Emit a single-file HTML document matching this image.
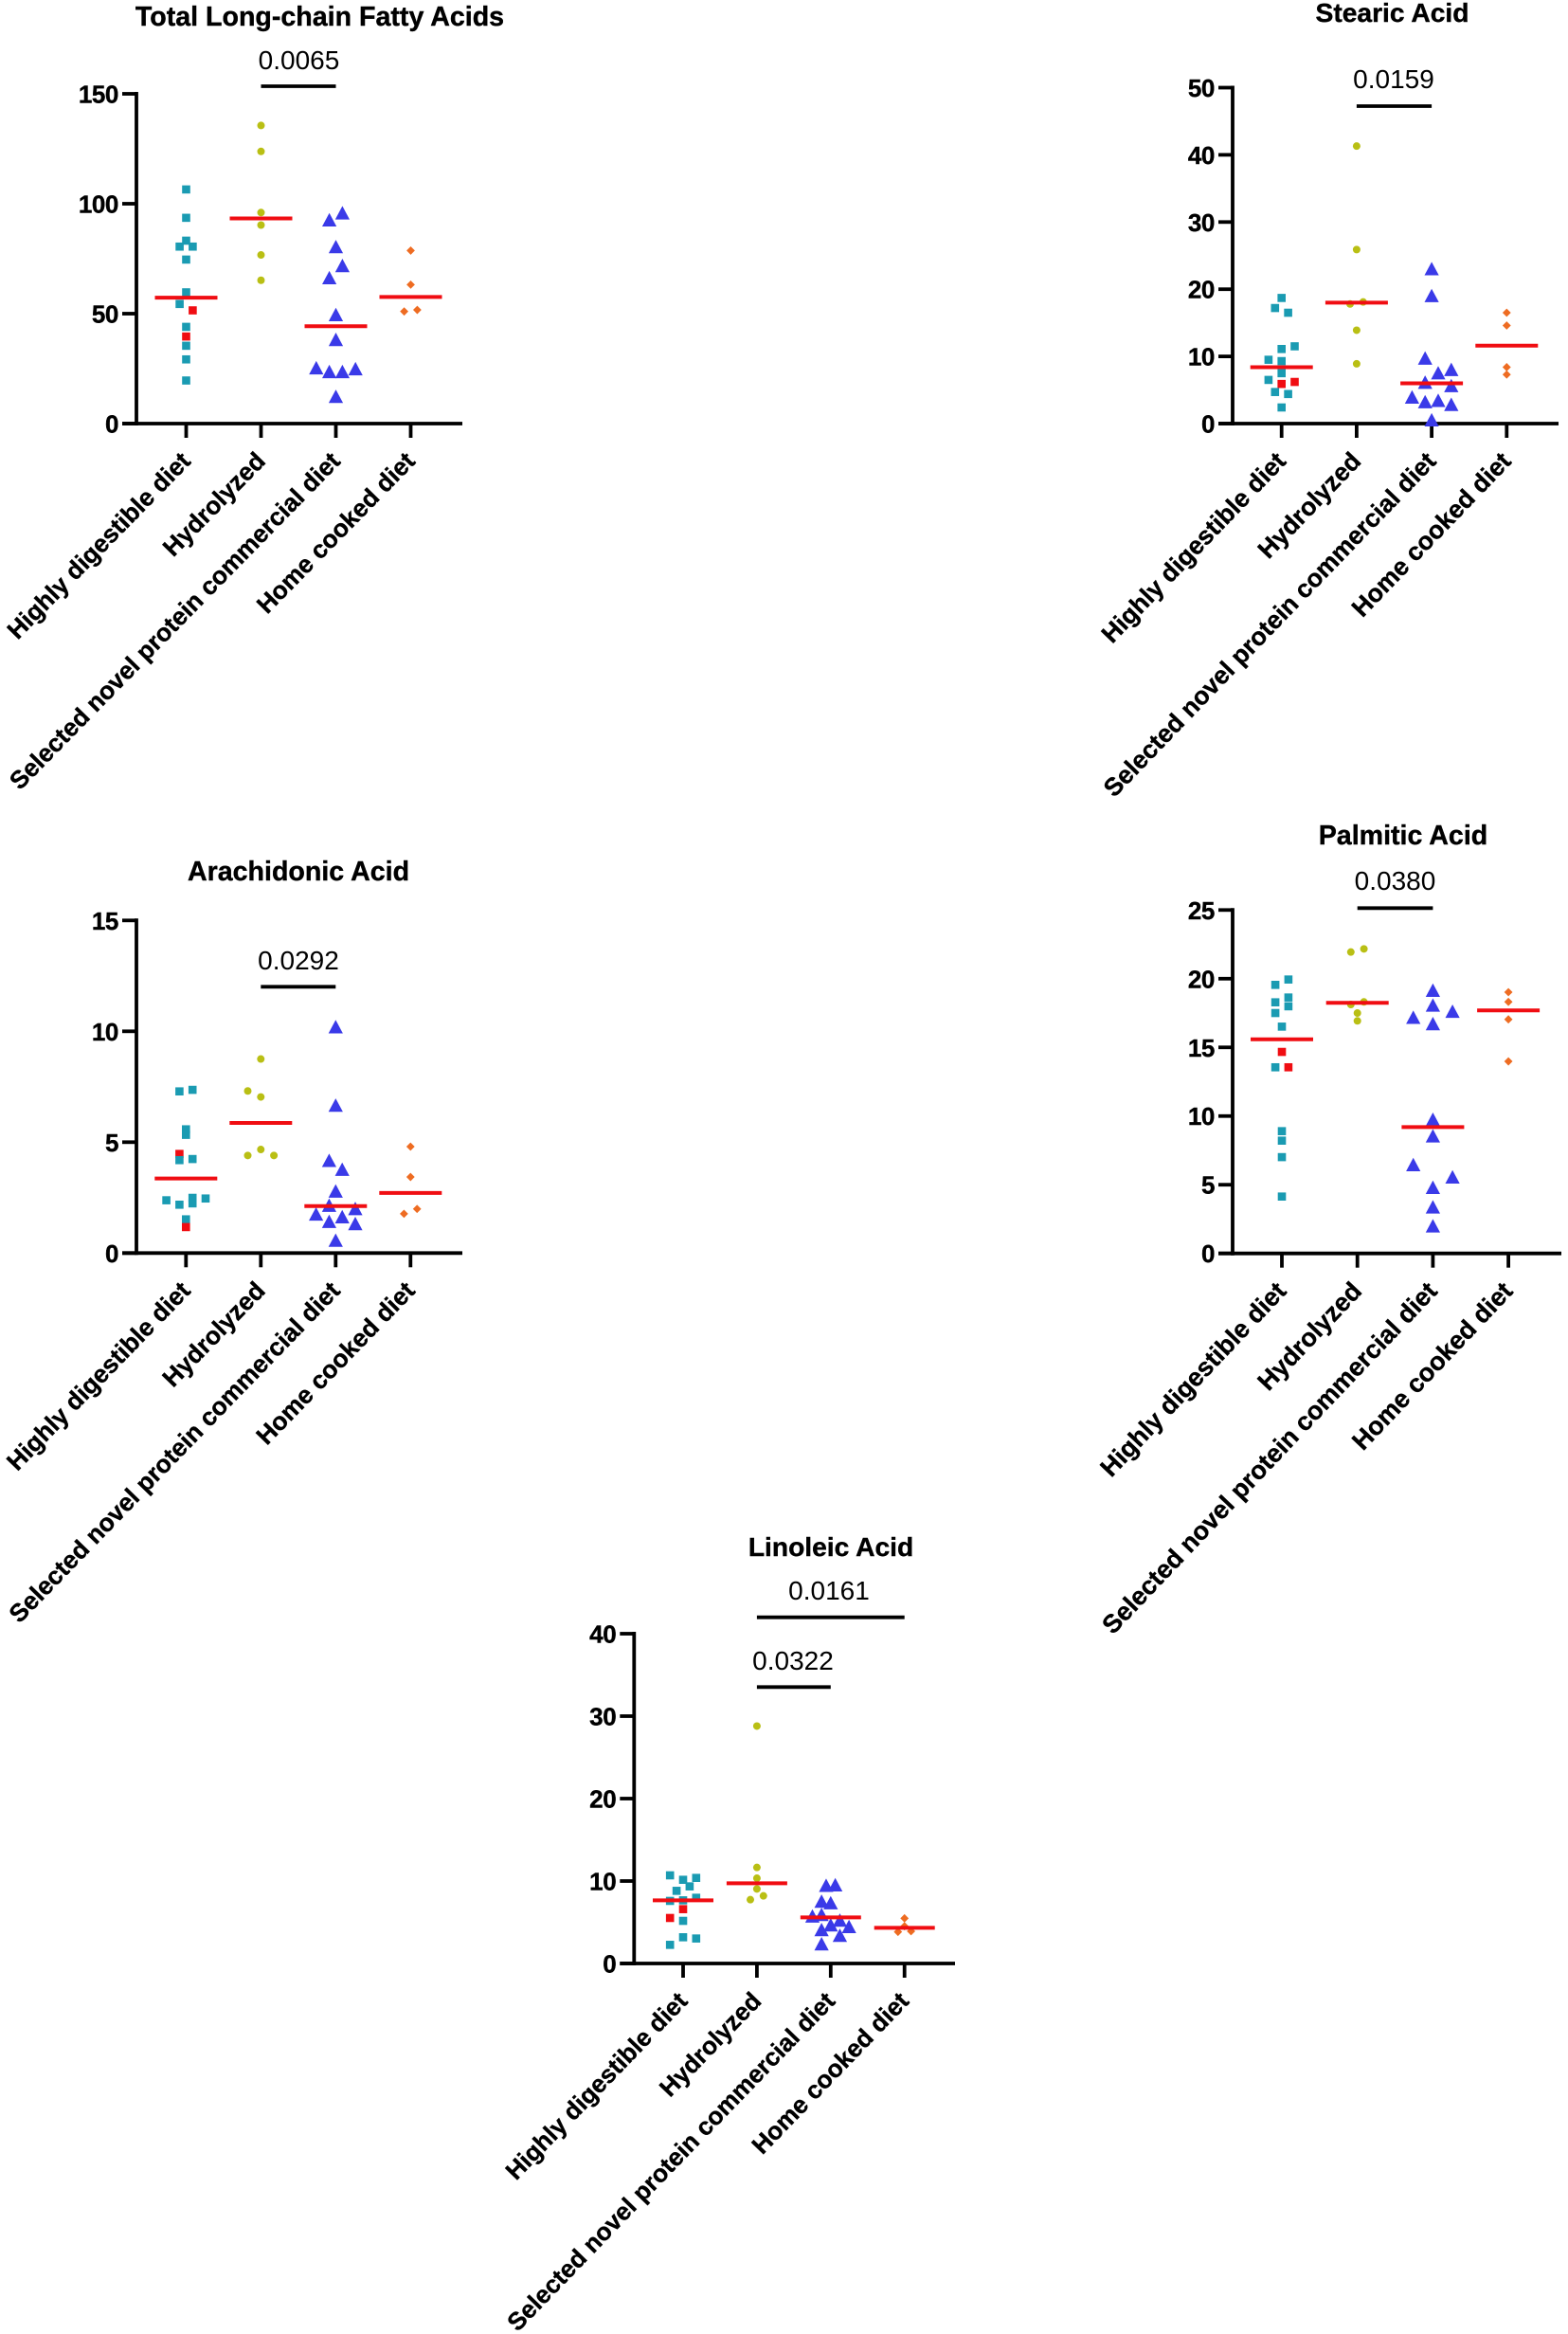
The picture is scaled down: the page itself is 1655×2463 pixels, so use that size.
<!DOCTYPE html>
<html lang="en">
<head>
<meta charset="utf-8">
<title>Fatty acid concentrations by diet</title>
<style>
html,body{margin:0;padding:0;background:#fff;}
body{width:1655px;height:2463px;overflow:hidden;}
svg{display:block;font-family:"Liberation Sans",Arial,sans-serif;filter:blur(0.35px);}
</style>
</head>
<body>
<svg id="figure" xmlns="http://www.w3.org/2000/svg" width="1655" height="2463" viewBox="0 0 1655 2463"></svg>
<script>
const categories = ["Highly digestible diet", "Hydrolyzed", "Selected novel protein commercial diet", "Home cooked diet"];

/* Total long-chain fatty acids */
const totalTicks = [0, 50, 100, 150];
const totalDigestible = [106.5, 93.6, 83.2, 80.5, 80.5, 74.6, 59.7, 54.4, 51.5, 44, 39.6, 35.4, 29.2, 19.6];
const totalDigestibleSwarm = [0, 0, 0, -1, 1, 0, 0, -1, 1, 0, 0, 0, 0, 0];
const totalDigestibleFlagged = [8, 10];
const totalHydrolyzed = [135.6, 123.8, 96, 90.3, 76.7, 65.2];
const totalHydrolyzedSwarm = [0, 0, 0, 0, 0, 0];
const totalNovel = [95.7, 92.5, 80.3, 71.7, 66.2, 49.4, 38.1, 25.2, 23.5, 23.5, 24.8, 12.2];
const totalNovelSwarm = [1, -1, 0, 1, -1, 0, 0, -3, -1, 1, 3, 0];
const totalHome = [78.7, 63.2, 51, 51.7];
const totalHomeSwarm = [0, 0, -1, 1];
const totalMedians = [57.3, 93.3, 44.3, 57.6];

/* Stearic acid */
const stearicTicks = [0, 10, 20, 30, 40, 50];
const stearicDigestible = [18.7, 17.2, 16.5, 11.5, 11.1, 9.5, 9.3, 7.5, 6.5, 5.9, 6.2, 4.7, 4.4, 2.4];
const stearicDigestibleSwarm = [0, -1, 1, 2, 0, -2, 0, 0, -2, 0, 2, -1, 1, 0];
const stearicDigestibleFlagged = [9, 10];
const stearicHydrolyzed = [41.3, 25.9, 17.8, 18.1, 13.9, 8.9];
const stearicHydrolyzedSwarm = [0, 0, -1, 1, 0, 0];
const stearicNovel = [23, 19, 9.7, 7.5, 8, 6.1, 5.6, 3.9, 3.2, 3.4, 2.8, 0.5];
const stearicNovelSwarm = [0, 0, -1, 1, 3, -1, 3, -3, -1, 1, 3, 0];
const stearicHome = [16.5, 14.6, 8.4, 7.3];
const stearicHomeSwarm = [0, 0, 0, 0];
const stearicMedians = [8.4, 18, 6, 11.6];

/* Arachidonic acid */
const arachidonicTicks = [0, 5, 10, 15];
const arachidonicDigestible = [7.36, 7.29, 5.58, 5.33, 4.47, 4.19, 4.24, 2.38, 2.46, 2.18, 2.49, 2.24, 1.52, 1.17];
const arachidonicDigestibleSwarm = [1, -1, 0, 0, -1, -1, 1, -3, 3, -1, 1, 1, 0, 0];
const arachidonicDigestibleFlagged = [4, 13];
const arachidonicHydrolyzed = [8.75, 7.31, 7.04, 4.67, 4.4, 4.4];
const arachidonicHydrolyzedSwarm = [0, -2, 0, 0, -2, 2];
const arachidonicNovel = [10.19, 6.65, 4.16, 3.76, 2.78, 2.14, 1.99, 1.74, 1.62, 1.41, 1.31, 0.56];
const arachidonicNovelSwarm = [0, 0, -1, 1, 0, -1, 3, -3, 1, -1, 3, 0];
const arachidonicHome = [4.8, 3.43, 1.99, 1.77];
const arachidonicHomeSwarm = [0, 0, 1, -1];
const arachidonicMedians = [3.36, 5.87, 2.12, 2.71];

/* Palmitic acid */
const palmiticTicks = [0, 5, 10, 15, 20, 25];
const palmiticDigestible = [19.94, 19.55, 18.63, 18.28, 17.99, 17.5, 16.51, 14.67, 13.55, 13.55, 8.9, 8.21, 7.01, 4.14];
const palmiticDigestibleSwarm = [1, -1, 1, -1, 1, -1, 0, 0, -1, 1, 0, 0, 0, 0];
const palmiticDigestibleFlagged = [7, 9];
const palmiticHydrolyzed = [22.17, 21.94, 18.31, 18.12, 17.5, 16.93];
const palmiticHydrolyzedSwarm = [1, -1, 1, -1, 0, 0];
const palmiticNovel = [19.13, 18.05, 17.6, 17.16, 16.7, 9.73, 8.53, 6.44, 5.54, 4.78, 3.36, 1.98];
const palmiticNovelSwarm = [0, 0, 3, -3, 0, 0, 0, -3, 3, 0, 0, 0];
const palmiticHome = [19.02, 18.31, 17.04, 13.98];
const palmiticHomeSwarm = [0, 0, 0, 0];
const palmiticMedians = [15.59, 18.24, 9.2, 17.69];

/* Linoleic acid */
const linoleicTicks = [0, 10, 20, 30, 40];
const linoleicDigestible = [10.69, 10.38, 10.15, 9.35, 8.81, 7.97, 7.59, 7.66, 6.59, 5.52, 5.17, 3.18, 3.03, 2.26];
const linoleicDigestibleSwarm = [-2, 2, 0, 1, -1, 2, -2, 0, 0, -2, 0, 0, 2, -2];
const linoleicDigestibleFlagged = [8, 9];
const linoleicHydrolyzed = [28.8, 11.65, 10.34, 9.04, 8.2, 7.74];
const linoleicHydrolyzedSwarm = [0, 0, 0, 0, 1, -1];
const linoleicNovel = [9.5, 9.43, 7.51, 7.32, 5.9, 5.71, 5.21, 4.64, 4.44, 4.06, 3.37, 2.34];
const linoleicNovelSwarm = [0.7, -0.7, -1.4, 0, -1.4, -2.8, 1.4, 0, 2.8, -1.4, 1.4, -1.4];
const linoleicHome = [5.48, 4.52, 3.83, 3.91];
const linoleicHomeSwarm = [0, 0, -1, 1];
const linoleicMedians = [7.66, 9.73, 5.59, 4.33];

const NS = "http://www.w3.org/2000/svg";
const root = document.getElementById("figure");
const TEAL = "#1a9bb2";
const OLIVE = "#b9bf14";
const BLUE = "#3a3ae8";
const ORANGE = "#ee6c22";
const RED = "#f00d12";
const BOLD_STROKE = 0.4;

function make(parent, tag, attrs, text) {
  const el = document.createElementNS(NS, tag);
  for (const k in attrs) el.setAttribute(k, attrs[k]);
  if (text !== undefined) el.textContent = text;
  parent.appendChild(el);
  return el;
}

function drawMark(parent, kind, x, y, color) {
  let el;
  if (kind === 0) {
    el = make(parent, "rect", {x: x - 4.3, y: y - 4.3, width: 8.6, height: 8.6, fill: color});
  } else if (kind === 1) {
    el = make(parent, "circle", {cx: x, cy: y, r: 4, fill: color});
  } else if (kind === 2) {
    el = make(parent, "polygon", {points: (x) + "," + (y - 7.6) + " " + (x + 7.6) + "," + (y + 6.6) + " " + (x - 7.6) + "," + (y + 6.6), fill: color});
  } else {
    el = make(parent, "polygon", {points: (x) + "," + (y - 4.4) + " " + (x + 4.4) + "," + y + " " + (x) + "," + (y + 4.4) + " " + (x - 4.4) + "," + y, fill: color});
  }
  return el;
}

function drawPanel(p) {
  const yScale = function (v) { return p.y0 - v * (p.y0 - p.yTop) / p.yMax; };
  const xScale = function (i) { return p.xFirst + i * p.xStep; };
  const slotPx = 6.9;

  const g = make(root, "g", {});
  
  

  const title = make(g, "text", {x: p.titleX, y: p.titleY, "text-anchor": "middle", "font-size": p.titleSize, "font-weight": "700", fill: "#000", stroke: "#000", "stroke-width": BOLD_STROKE}, p.title);
  
  

  const yAxis = make(g, "line", {x1: p.xAxis, x2: p.xAxis, y1: p.yTop - 2, y2: p.y0 + 2, stroke: "#000", "stroke-width": 3.8});
  
  

  const xAxis = make(g, "line", {x1: p.xAxis - 15, x2: p.xEnd, y1: p.y0, y2: p.y0, stroke: "#000", "stroke-width": 3.8});
  
  

  p.ticks.forEach(function (t) {
    const tick = make(g, "line", {x1: p.xAxis - 15, x2: p.xAxis, y1: yScale(t), y2: yScale(t), stroke: "#000", "stroke-width": 3.8});
    
    
    const label = make(g, "text", {x: p.xAxis - 19, y: yScale(t) + 9.5, "text-anchor": "end", "font-size": 26, "font-weight": "700", fill: "#000", stroke: "#000", "stroke-width": BOLD_STROKE, "letter-spacing": "-0.4"}, String(t));
    
    
  });

  categories.forEach(function (c, i) {
    const tick = make(g, "line", {x1: xScale(i), x2: xScale(i), y1: p.y0, y2: p.y0 + 15, stroke: "#000", "stroke-width": 3.8});
    
    
    const lx = xScale(i) + 6;
    const ly = p.y0 + 41;
    const label = make(g, "text", {x: lx, y: ly, "text-anchor": "end", "font-size": p.labelSize, "font-weight": "700", fill: "#000", stroke: "#000", "stroke-width": BOLD_STROKE, transform: "rotate(" + (-p.labelAngle) + " " + lx + " " + ly + ")"}, c);
    
    
  });

  p.series.forEach(function (s, i) {
    s.values.forEach(function (v, j) {
      const isFlagged = s.flagged && s.flagged.indexOf(j) >= 0;
      const mark = drawMark(g, i, xScale(i) + s.swarm[j] * slotPx, yScale(v), isFlagged ? RED : s.color);
      
      
    });
  });

  p.medians.forEach(function (m, i) {
    const line = make(g, "line", {x1: xScale(i) - p.medianHalf, x2: xScale(i) + p.medianHalf, y1: yScale(m), y2: yScale(m), stroke: RED, "stroke-width": 4});
    
    
  });

  p.sig.forEach(function (b) {
    const bar = make(g, "line", {x1: xScale(b.from), x2: xScale(b.to), y1: b.y, y2: b.y, stroke: "#000", "stroke-width": 3.8});
    
    
    const txt = make(g, "text", {x: b.textX, y: b.textY, "text-anchor": "middle", "font-size": 28, fill: "#000"}, b.label);
    
    
  });
}

drawPanel({
  key: "total-long-chain", title: "Total Long-chain Fatty Acids", titleX: 337.5, titleY: 27, titleSize: 28.6,
  labelSize: 26.15, labelAngle: 45.6,
  xAxis: 144, xEnd: 488, y0: 447, yTop: 99, yMax: 150, xFirst: 196.5, xStep: 79, medianHalf: 33,
  ticks: totalTicks, medians: totalMedians,
  series: [
    {values: totalDigestible, swarm: totalDigestibleSwarm, flagged: totalDigestibleFlagged, color: TEAL},
    {values: totalHydrolyzed, swarm: totalHydrolyzedSwarm, color: OLIVE},
    {values: totalNovel, swarm: totalNovelSwarm, color: BLUE},
    {values: totalHome, swarm: totalHomeSwarm, color: ORANGE}
  ],
  sig: [{from: 1, to: 2, y: 91, label: "0.0065", textX: 315.5, textY: 73}]
});

drawPanel({
  key: "stearic-acid", title: "Stearic Acid", titleX: 1469.5, titleY: 23, titleSize: 28.2,
  labelSize: 26.5, labelAngle: 46.1,
  xAxis: 1301, xEnd: 1645, y0: 447, yTop: 92.5, yMax: 50, xFirst: 1352.7, xStep: 79.2, medianHalf: 33,
  ticks: stearicTicks, medians: stearicMedians,
  series: [
    {values: stearicDigestible, swarm: stearicDigestibleSwarm, flagged: stearicDigestibleFlagged, color: TEAL},
    {values: stearicHydrolyzed, swarm: stearicHydrolyzedSwarm, color: OLIVE},
    {values: stearicNovel, swarm: stearicNovelSwarm, color: BLUE},
    {values: stearicHome, swarm: stearicHomeSwarm, color: ORANGE}
  ],
  sig: [{from: 1, to: 2, y: 112, label: "0.0159", textX: 1471, textY: 93}]
});

drawPanel({
  key: "arachidonic-acid", title: "Arachidonic Acid", titleX: 315, titleY: 929, titleSize: 28.6,
  labelSize: 26.3, labelAngle: 45.9,
  xAxis: 144, xEnd: 488, y0: 1322.3, yTop: 971.3, yMax: 15, xFirst: 196.3, xStep: 79, medianHalf: 33,
  ticks: arachidonicTicks, medians: arachidonicMedians,
  series: [
    {values: arachidonicDigestible, swarm: arachidonicDigestibleSwarm, flagged: arachidonicDigestibleFlagged, color: TEAL},
    {values: arachidonicHydrolyzed, swarm: arachidonicHydrolyzedSwarm, color: OLIVE},
    {values: arachidonicNovel, swarm: arachidonicNovelSwarm, color: BLUE},
    {values: arachidonicHome, swarm: arachidonicHomeSwarm, color: ORANGE}
  ],
  sig: [{from: 1, to: 2, y: 1041.3, label: "0.0292", textX: 315, textY: 1023}]
});

drawPanel({
  key: "palmitic-acid", title: "Palmitic Acid", titleX: 1481, titleY: 891, titleSize: 28.6,
  labelSize: 26.9, labelAngle: 46.5,
  xAxis: 1301, xEnd: 1648, y0: 1322.7, yTop: 960.3, yMax: 25, xFirst: 1353, xStep: 79.7, medianHalf: 33,
  ticks: palmiticTicks, medians: palmiticMedians,
  series: [
    {values: palmiticDigestible, swarm: palmiticDigestibleSwarm, flagged: palmiticDigestibleFlagged, color: TEAL},
    {values: palmiticHydrolyzed, swarm: palmiticHydrolyzedSwarm, color: OLIVE},
    {values: palmiticNovel, swarm: palmiticNovelSwarm, color: BLUE},
    {values: palmiticHome, swarm: palmiticHomeSwarm, color: ORANGE}
  ],
  sig: [{from: 1, to: 2, y: 958.3, label: "0.0380", textX: 1472.5, textY: 939}]
});

drawPanel({
  key: "linoleic-acid", title: "Linoleic Acid", titleX: 877, titleY: 1642, titleSize: 28.2,
  labelSize: 26.1, labelAngle: 46,
  xAxis: 669.3, xEnd: 1008, y0: 2072, yTop: 1724, yMax: 40, xFirst: 721, xStep: 77.9, medianHalf: 32,
  ticks: linoleicTicks, medians: linoleicMedians,
  series: [
    {values: linoleicDigestible, swarm: linoleicDigestibleSwarm, flagged: linoleicDigestibleFlagged, color: TEAL},
    {values: linoleicHydrolyzed, swarm: linoleicHydrolyzedSwarm, color: OLIVE},
    {values: linoleicNovel, swarm: linoleicNovelSwarm, color: BLUE},
    {values: linoleicHome, swarm: linoleicHomeSwarm, color: ORANGE}
  ],
  sig: [
    {from: 1, to: 3, y: 1706.7, label: "0.0161", textX: 875, textY: 1688},
    {from: 1, to: 2, y: 1780.3, label: "0.0322", textX: 837, textY: 1762}
  ]
});
</script>
</body>
</html>
